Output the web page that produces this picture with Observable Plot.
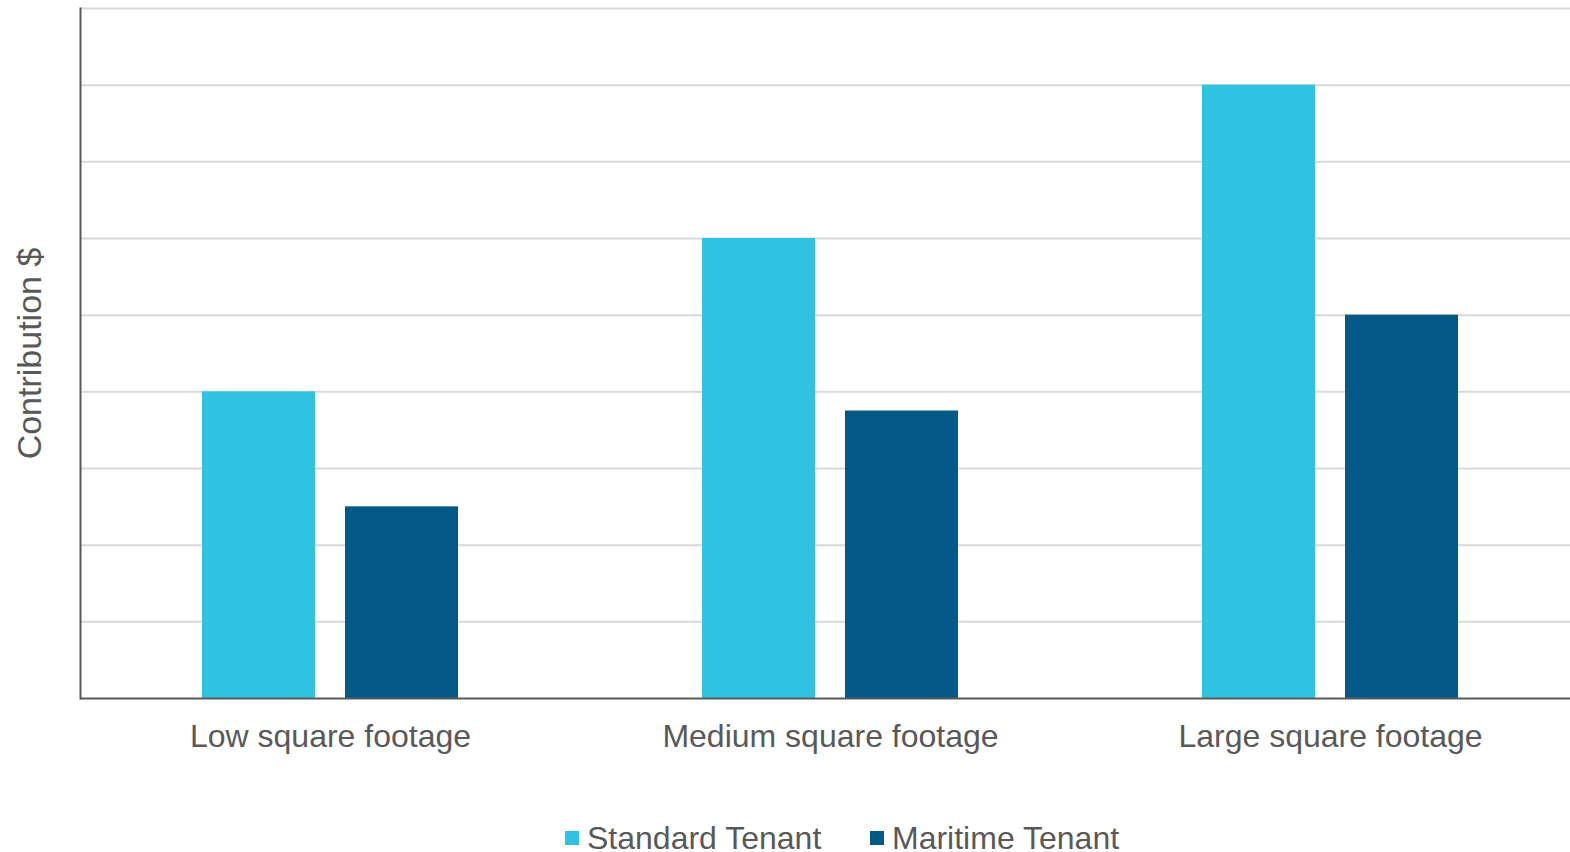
<!DOCTYPE html>
<html>
<head>
<meta charset="utf-8">
<script src="https://cdn.jsdelivr.net/npm/d3@7"></script>
<script src="https://cdn.jsdelivr.net/npm/@observablehq/plot@0.6"></script>
<style>
  html, body { margin: 0; padding: 0; background: #fff; overflow: hidden; width: 1570px; height: 852px; }
  #chart svg { display: block; max-width: none !important; }
  #legend { position: relative; height: 62px; font-family: "Liberation Sans", Arial, sans-serif; font-size: 32px; color: #595959; line-height: 32px; white-space: nowrap; }
  .item { position: absolute; top: 32px; display: flex; align-items: center; }
  .sw { width: 14px; height: 14px; margin-right: 8px; }
</style>
</head>
<body>
<div id="chart"></div>
<div id="legend"></div>
<script>
const categories = ["Low square footage", "Medium square footage", "Large square footage"];
const series = ["Standard Tenant", "Maritime Tenant"];
const standardValues = [4, 6, 8];
const maritimeValues = [2.5, 3.75, 5];
const yTicks = [1, 2, 3, 4, 5, 6, 7, 8, 9];
const colors = ["#2FC3E2", "#045A86"];

const data = categories.flatMap((c, i) => [
  {category: c, series: series[0], value: standardValues[i]},
  {category: c, series: series[1], value: maritimeValues[i]}
]);

const chart = Plot.plot({
  width: 1580,
  height: 790,
  marginLeft: 80,
  marginRight: 0,
  marginTop: 8,
  marginBottom: 92,
  style: {fontFamily: "'Liberation Sans', Arial, sans-serif", color: "#595959", background: "white", maxWidth: "none"},
  fx: {domain: categories, padding: 0, label: null},
  x: {domain: series, paddingInner: 0.21, paddingOuter: 0.85, axis: null},
  y: {domain: [0, 9], axis: null},
  color: {domain: series, range: colors},
  marks: [
    Plot.gridY(yTicks, {stroke: "#d9d9d9", strokeOpacity: 1, strokeWidth: 2}),
    Plot.barY(data, {fx: "category", x: "series", y: "value", fill: "series"}),
    Plot.ruleY([0], {stroke: "#595959", strokeWidth: 2}),
    Plot.frame({anchor: "left", stroke: "#595959", strokeWidth: 2, facetAnchor: "left"}),
    Plot.axisY({ticks: [], tickSize: 0,
      label: "Contribution $", labelAnchor: "center", labelOffset: 64, labelArrow: "none", fontSize: 34}),
    Plot.axisFx({anchor: "bottom", tickSize: 0, tickPadding: 26, fontSize: 32, label: null})
  ]
});
document.getElementById("chart").appendChild(chart);

const legend = document.getElementById("legend");
const lefts = [565, 870];
series.forEach((s, i) => {
  const item = document.createElement("div");
  item.className = "item";
  item.style.left = lefts[i] + "px";
  const sw = document.createElement("span");
  sw.className = "sw";
  sw.style.background = colors[i];
  const t = document.createElement("span");
  t.textContent = s;
  item.appendChild(sw);
  item.appendChild(t);
  legend.appendChild(item);
});
</script>
</body>
</html>
